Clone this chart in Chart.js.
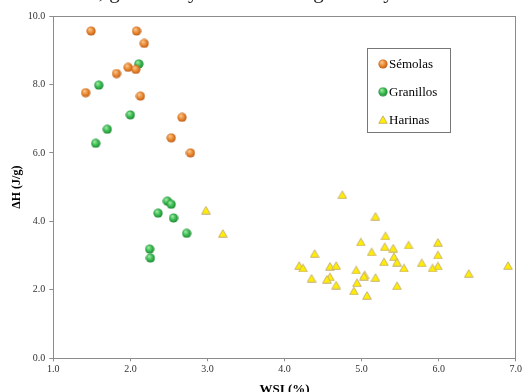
<!DOCTYPE html>
<html>
<head>
<meta charset="utf-8">
<script src="https://cdn.jsdelivr.net/npm/chart.js@4.4.1/dist/chart.umd.min.js"></script>
<style>
  html, body { margin: 0; padding: 0; background: #fff; overflow: hidden; }
  #wrap { width: 524px; height: 392px; overflow: hidden; position: relative; }
  canvas { display: block; }
</style>
</head>
<body>
<div id="wrap"><canvas id="chart" width="524" height="405"></canvas></div>
<script>
// Sémolas
const semolasX = [1.49, 2.08, 2.18, 1.82, 1.97, 2.07, 1.42, 2.13, 2.67, 2.53, 2.78];
const semolasY = [9.56, 9.56, 9.20, 8.32, 8.50, 8.44, 7.76, 7.66, 7.04, 6.44, 6.00];

// Granillos
const granillosX = [2.11, 1.59, 2.00, 1.70, 1.55, 2.48, 2.53, 2.36, 2.56, 2.73, 2.25, 2.26];
const granillosY = [8.60, 7.98, 7.11, 6.69, 6.28, 4.59, 4.50, 4.24, 4.10, 3.65, 3.19, 2.93];

// Harinas
const harinasX = [2.98, 3.20, 4.75, 5.18, 5.31, 4.99, 5.99, 5.61, 5.30, 5.41, 5.13, 4.39,
  5.99, 5.42, 5.29, 5.46, 5.78, 4.19, 6.90, 5.99, 4.59, 4.67, 4.24, 5.55, 5.92, 4.93,
  6.39, 5.04, 5.03, 5.18, 4.59, 4.35, 4.55, 4.94, 4.67, 5.46, 4.90, 5.07];
const harinasY = [4.33, 3.65, 4.78, 4.15, 3.58, 3.40, 3.39, 3.31, 3.26, 3.22, 3.11, 3.06,
  3.02, 2.97, 2.82, 2.81, 2.79, 2.71, 2.71, 2.70, 2.69, 2.71, 2.64, 2.64, 2.64, 2.58,
  2.48, 2.44, 2.40, 2.36, 2.38, 2.34, 2.31, 2.21, 2.14, 2.12, 1.97, 1.84];

const seriesNames = ['Sémolas', 'Granillos', 'Harinas'];

const serif = '"Liberation Serif", "DejaVu Serif", serif';

function toPoints(xs, ys) {
  return xs.map((x, i) => ({ x: x, y: ys[i] }));
}

// shaded ball marker
function makeBall(light, base, dark) {
  const c = document.createElement('canvas');
  c.width = 10; c.height = 10;
  const g = c.getContext('2d');
  const grad = g.createRadialGradient(3.6, 3.2, 0.5, 5, 5, 5);
  grad.addColorStop(0, light);
  grad.addColorStop(0.55, base);
  grad.addColorStop(1, dark);
  g.fillStyle = grad;
  g.beginPath();
  g.arc(5, 5, 4.6, 0, Math.PI * 2);
  g.fill();
  return c;
}

function makeTriangle() {
  const c = document.createElement('canvas');
  c.width = 10; c.height = 9;
  const g = c.getContext('2d');
  g.fillStyle = '#ffee00';
  g.strokeStyle = '#c9b27a';
  g.lineWidth = 1;
  g.beginPath();
  g.moveTo(5, 0.8);
  g.lineTo(9.3, 8.3);
  g.lineTo(0.7, 8.3);
  g.closePath();
  g.fill();
  g.stroke();
  return c;
}

const orangeBall = makeBall('#f9c48a', '#e8852a', '#b5561a');
const greenBall = makeBall('#9be8a2', '#35b84c', '#1d7f32');
const yellowTri = makeTriangle();
const markers = [orangeBall, greenBall, yellowTri];

// box around plot area + legend box inside plot
const framePlugin = {
  id: 'frame',
  afterDraw(chart) {
    const ctx = chart.ctx;
    const a = chart.chartArea;
    ctx.save();
    ctx.strokeStyle = '#8c8c8c';
    ctx.lineWidth = 1;
    ctx.strokeRect(Math.round(a.left) + 0.5, Math.round(a.top) + 0.5,
      Math.round(a.right - a.left), Math.round(a.bottom - a.top));

    // legend
    ctx.strokeStyle = '#777';
    ctx.strokeRect(367.5, 48.5, 83, 84);
    ctx.font = '13px ' + serif;
    ctx.fillStyle = '#000';
    ctx.textBaseline = 'middle';
    seriesNames.forEach((name, i) => {
      const y = 65 + i * 27.8;
      const m = markers[i];
      ctx.drawImage(m, 383 - m.width / 2, y - m.height / 2 - 1);
      ctx.fillText(name, 389, y);
    });

    // caption cut off at the top of the picture
    ctx.font = '21px ' + serif;
    ctx.fillStyle = '#222';
    ctx.textBaseline = 'alphabetic';
    ctx.fillText('de sémolas, granillos y harinas de trigo duro y de harina comercial', 6, -2);
    ctx.restore();
  }
};

new Chart(document.getElementById('chart'), {
  type: 'scatter',
  data: {
    datasets: [
      { label: seriesNames[0], data: toPoints(semolasX, semolasY), pointStyle: orangeBall },
      { label: seriesNames[1], data: toPoints(granillosX, granillosY), pointStyle: greenBall },
      { label: seriesNames[2], data: toPoints(harinasX, harinasY), pointStyle: yellowTri }
    ]
  },
  options: {
    responsive: false,
    animation: false,
    layout: { padding: { top: 16, right: 8, left: 0, bottom: 0 } },
    plugins: {
      legend: { display: false },
      tooltip: { enabled: false }
    },
    scales: {
      x: {
        type: 'linear',
        min: 1,
        max: 7,
        ticks: {
          stepSize: 1,
          padding: 2,
          color: '#333',
          font: { family: serif, size: 10 },
          callback: v => v.toFixed(1)
        },
        grid: { drawOnChartArea: false, tickLength: 3, color: '#8c8c8c' },
        border: { color: '#8c8c8c', width: 1 },
        title: {
          display: true,
          text: 'WSI (%)',
          color: '#000',
          font: { family: serif, size: 13, weight: 'bold' },
          padding: { top: 0, bottom: 8 }
        },
        afterFit: s => { s.height = 46.7; }
      },
      y: {
        min: 0,
        max: 10,
        ticks: {
          stepSize: 2,
          padding: 4,
          color: '#333',
          font: { family: serif, size: 10 },
          callback: v => v.toFixed(1)
        },
        grid: { drawOnChartArea: false, tickLength: 4, color: '#8c8c8c' },
        border: { color: '#8c8c8c', width: 1 },
        title: {
          display: true,
          text: 'ΔH (J/g)',
          color: '#000',
          font: { family: serif, size: 12, weight: 'bold' },
          padding: { top: 10, bottom: 0 }
        },
        afterFit: s => { s.width = 53.3; }
      }
    }
  },
  plugins: [framePlugin]
});
</script>
</body>
</html>
